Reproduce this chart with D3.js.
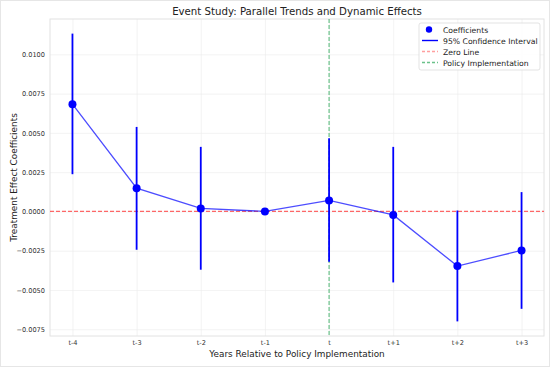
<!DOCTYPE html>
<html lang="en">
<head>
<meta charset="UTF-8"/>
<script src="https://d3js.org/d3.v7.min.js"></script>
<style>
  body { margin: 0; background: #fff; font-family: 'DejaVu Sans', sans-serif; }
  svg { display: block; }
  .grid line { stroke: #ebebeb; stroke-width: 0.6; }
  .grid path { stroke-width: 0; }
  .axis path, .axis line { stroke: none; }
  .axis text { font-size: 6.6px; fill: #333; font-family: 'DejaVu Sans', sans-serif; }
  text.title { font-size: 10.2px; fill: #222; }
  text.label { font-size: 8.9px; fill: #222; }
  .legend text { font-size: 7.7px; fill: #222; }
</style>
</head>
<body>
<svg width="550" height="367"></svg>
<script>
// event time categories
const periods = ['t-4', 't-3', 't-2', 't-1', 't', 't+1', 't+2', 't+3'];
const relTime = [-4, -3, -2, -1, 0, 1, 2, 3];
const coefs = [0.00683, 0.00148, 0.00019, 0.0, 0.0007, -0.00022, -0.00348, -0.00248];
const lower = [0.00237, -0.00244, -0.00371, 0.0, -0.0032, -0.00452, -0.0070, -0.0062];
const upper = [0.01132, 0.00538, 0.00411, 0.0, 0.00466, 0.00411, 0.00006, 0.00123];
const yTicks = [-0.0075, -0.0050, -0.0025, 0.0, 0.0025, 0.0050, 0.0075, 0.0100];

const data = relTime.map((t, i) => ({ t: t, label: periods[i], b: coefs[i], lo: lower[i], hi: upper[i] }));

const svg = d3.select('svg');
const pLeft = 50, pTop = 19, pRight = 544, pBottom = 336;

const x = d3.scaleLinear().domain([-4.35, 3.35]).range([pLeft, pRight]);
const y = d3.scaleLinear().domain([-0.00793, 0.01225]).range([pBottom, pTop]);

// faint outer border
svg.append('rect')
  .attr('x', 0.5).attr('y', 0.5).attr('width', 549).attr('height', 366)
  .attr('fill', 'none').attr('stroke', '#e6e6e6');

// grid
svg.append('g')
  .attr('class', 'grid')
  .attr('transform', `translate(0, ${pBottom})`)
  .call(d3.axisBottom(x).tickValues(relTime).tickSize(-(pBottom - pTop)).tickFormat(''));
svg.append('g')
  .attr('class', 'grid')
  .attr('transform', `translate(${pLeft}, 0)`)
  .call(d3.axisLeft(y).tickValues(yTicks).tickSize(-(pRight - pLeft)).tickFormat(''));

// frame
svg.append('rect')
  .attr('x', pLeft).attr('y', pTop)
  .attr('width', pRight - pLeft).attr('height', pBottom - pTop)
  .attr('fill', 'none').attr('stroke', '#e2e2e2').attr('stroke-width', 1);

// axes labels
svg.append('g')
  .attr('class', 'axis')
  .attr('transform', `translate(0, ${pBottom})`)
  .call(d3.axisBottom(x).tickValues(relTime).tickSize(0).tickPadding(4)
    .tickFormat((d, i) => periods[i]));
svg.append('g')
  .attr('class', 'axis')
  .attr('transform', `translate(${pLeft}, 0)`)
  .call(d3.axisLeft(y).tickValues(yTicks).tickSize(0).tickPadding(5)
    .tickFormat(d3.format('.4f')));

// zero line
svg.append('line')
  .attr('x1', pLeft).attr('x2', pRight)
  .attr('y1', y(0)).attr('y2', y(0))
  .attr('stroke', '#ff2a2a').attr('stroke-opacity', 0.7)
  .attr('stroke-width', 1.3).attr('stroke-dasharray', '4 2');

// policy line
svg.append('line')
  .attr('x1', x(0)).attr('x2', x(0))
  .attr('y1', pTop).attr('y2', pBottom)
  .attr('stroke', '#2ca85a').attr('stroke-opacity', 0.7)
  .attr('stroke-width', 1.2).attr('stroke-dasharray', '4 2');

// connecting line
svg.append('path')
  .datum(data)
  .attr('fill', 'none')
  .attr('stroke', '#0000ff').attr('stroke-opacity', 0.7)
  .attr('stroke-width', 1.3)
  .attr('d', d3.line().x(d => x(d.t)).y(d => y(d.b)));

// confidence intervals
svg.selectAll('line.ci')
  .data(data)
  .enter()
  .append('line')
  .attr('class', 'ci')
  .attr('x1', d => x(d.t)).attr('x2', d => x(d.t))
  .attr('y1', d => y(d.lo)).attr('y2', d => y(d.hi))
  .attr('stroke', '#0000ff').attr('stroke-width', 1.8);

svg.selectAll('circle.pt')
  .data(data)
  .enter()
  .append('circle')
  .attr('class', 'pt')
  .attr('cx', d => x(d.t)).attr('cy', d => y(d.b))
  .attr('r', 4).attr('fill', '#0000ff');

// titles
svg.append('text')
  .attr('class', 'title')
  .attr('x', (pLeft + pRight) / 2).attr('y', 15)
  .attr('text-anchor', 'middle')
  .text('Event Study: Parallel Trends and Dynamic Effects');

svg.append('text')
  .attr('class', 'label')
  .attr('x', (pLeft + pRight) / 2).attr('y', 357)
  .attr('text-anchor', 'middle')
  .text('Years Relative to Policy Implementation');

svg.append('text')
  .attr('class', 'label')
  .attr('transform', `translate(17, ${(pTop + pBottom) / 2}) rotate(-90)`)
  .attr('text-anchor', 'middle')
  .text('Treatment Effect Coefficients');

// legend
const legend = svg.append('g').attr('class', 'legend');
legend.append('rect')
  .attr('x', 419).attr('y', 23).attr('width', 121).attr('height', 47)
  .attr('rx', 2).attr('fill', 'white').attr('fill-opacity', 0.85)
  .attr('stroke', '#dcdcdc').attr('stroke-width', 0.8);

const items = [
  { name: 'Coefficients', type: 'dot', color: '#0000ff', dash: null, op: 1 },
  { name: '95% Confidence Interval', type: 'line', color: '#0000ff', dash: null, op: 1 },
  { name: 'Zero Line', type: 'line', color: '#ff2a2a', dash: '3 2', op: 0.45 },
  { name: 'Policy Implementation', type: 'line', color: '#2ca85a', dash: '3 2', op: 0.7 }
];

items.forEach((it, i) => {
  const cy = 29.5 + i * 11;
  if (it.type === 'dot') {
    legend.append('circle').attr('cx', 429).attr('cy', cy).attr('r', 3.2).attr('fill', it.color);
  } else {
    legend.append('line')
      .attr('x1', 422).attr('x2', 438).attr('y1', cy).attr('y2', cy)
      .attr('stroke', it.color).attr('stroke-opacity', it.op)
      .attr('stroke-width', 1.4)
      .attr('stroke-dasharray', it.dash);
  }
  legend.append('text')
    .attr('x', 443).attr('y', cy + 3)
    .text(it.name);
});
</script>
</body>
</html>
